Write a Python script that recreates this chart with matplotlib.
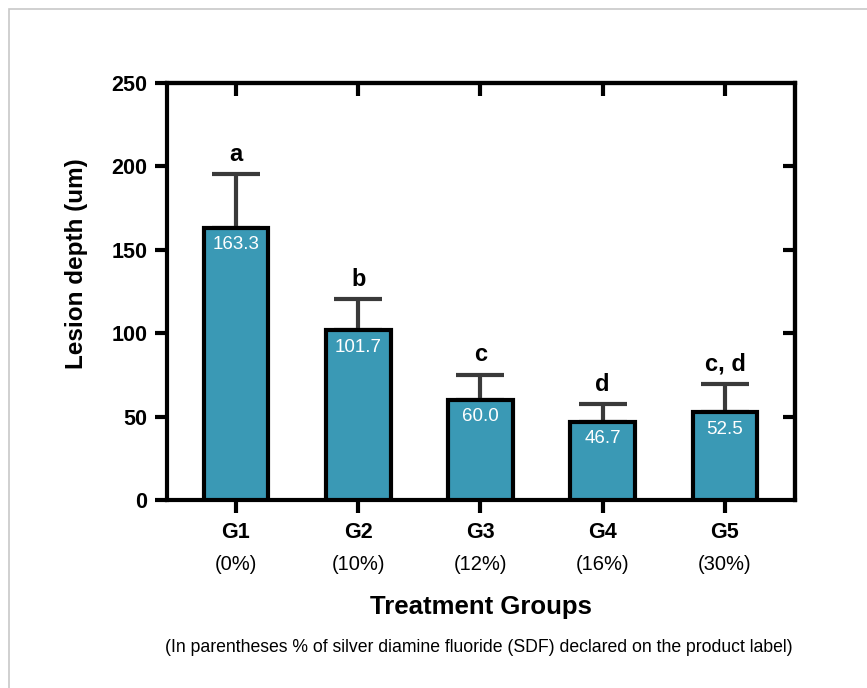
import matplotlib
matplotlib.use("Agg")
import matplotlib.pyplot as plt
from matplotlib.patches import Rectangle
from matplotlib.transforms import blended_transform_factory

plt.rcParams['font.family'] = ['Liberation Sans', 'DejaVu Sans']

groups = ["G1", "G2", "G3", "G4", "G5"]
percents = ["(0%)", "(10%)", "(12%)", "(16%)", "(30%)"]
means = [163.3, 101.7, 60.0, 46.7, 52.5]
errors = [32.2, 18.8, 15.2, 10.6, 17.3]
letters = ["a", "b", "c", "d", "c, d"]
value_labels = ["163.3", "101.7", "60.0", "46.7", "52.5"]

W, H = 867, 688
fig = plt.figure(figsize=(W / 100, H / 100), dpi=100)
fig.patches.append(Rectangle((9 / W, -0.1), 1.2, (H - 8.5) / H + 0.1, transform=fig.transFigure,
                             fill=False, edgecolor="#c8c8c8", linewidth=1.2))

L, R, T, B = 167, 795, 83, 500
ax = fig.add_axes([L / W, 1 - B / H, (R - L) / W, (B - T) / H])
x = list(range(len(groups)))
ax.bar(x, means, width=0.53, color="#3a99b5", edgecolor="black", linewidth=3, zorder=3)
ax.errorbar(x, means, yerr=[[0] * len(errors), errors], fmt="none", ecolor="#3a3a3a",
            elinewidth=3, capsize=17, capthick=3, zorder=2)

for xi, m, e, let, vl in zip(x, means, errors, letters, value_labels):
    ax.text(xi, m + e + 8, let, ha="center", va="baseline", fontsize=17, fontweight="bold")
    ax.text(xi, m - 10, vl, ha="center", va="center", fontsize=13.5, color="white", zorder=4)

ax.set_xlim(-0.564, 4.573)
ax.set_ylim(0, 250)
ax.set_yticks([0, 50, 100, 150, 200, 250])
ax.set_yticklabels(["0", "50", "100", "150", "200", "250"], fontsize=15.5, fontweight="bold")
ax.set_xticks(x)
ax.set_xticklabels([])
ax.tick_params(axis="both", length=9, width=3, direction="out", pad=5, top=False, right=False)
for s in ax.spines.values():
    s.set_linewidth(3)

# inward ticks on top and right
ax2 = ax.secondary_xaxis("top")
ax2.set_xticks(x)
ax2.set_xticklabels([])
ax2.tick_params(length=9, width=3, direction="in")
ay2 = ax.secondary_yaxis("right")
ay2.set_yticks([50, 100, 150, 200])
ay2.set_yticklabels([])
ay2.tick_params(length=9, width=3, direction="in")
ax2.spines["top"].set_linewidth(3)
ay2.spines["right"].set_linewidth(3)

trans = blended_transform_factory(ax.transData, fig.transFigure)
for xi, g, p in zip(x, groups, percents):
    ax.text(xi, 1 - 533 / H, g, transform=trans, ha="center", va="center", fontsize=15.5, fontweight="bold")
    ax.text(xi, 1 - 564 / H, p, transform=trans, ha="center", va="center", fontsize=14.5)

fig.text(77 / W, 1 - 264 / H, "Lesion depth (um)", rotation=90, ha="center", va="center",
         fontsize=17.5, fontweight="bold")
fig.text((L + R) / 2 / W, 1 - 607 / H, "Treatment Groups", ha="center", va="center",
         fontsize=18.5, fontweight="bold")
fig.text(479 / W, 1 - 648 / H,
         "(In parentheses % of silver diamine fluoride (SDF) declared on the product label)",
         ha="center", va="center", fontsize=12.7)

fig.savefig("out.png", dpi=100)
